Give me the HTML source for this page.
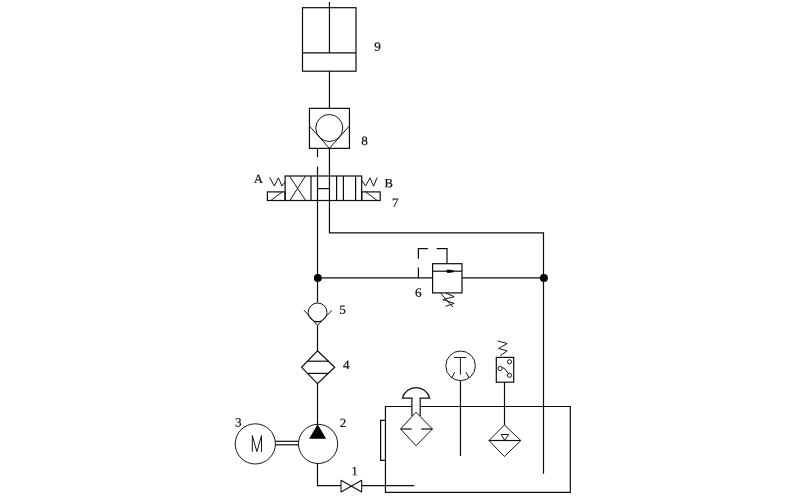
<!DOCTYPE html>
<html>
<head>
<meta charset="utf-8">
<title>Hydraulic circuit</title>
<style>
html,body{margin:0;padding:0;background:#fff;}
body{width:800px;height:500px;overflow:hidden;font-family:"Liberation Serif",serif;}
svg{display:block;will-change:transform;}
.l{fill:none;stroke:#0c0c0c;stroke-width:1.2;stroke-linecap:butt;stroke-linejoin:miter;}
.t{font-family:"Liberation Serif",serif;font-size:12.9px;fill:#111;stroke:#111;stroke-width:0.22px;text-anchor:middle;}
.f{fill:#000;stroke:none;}
.c{stroke-width:1;stroke:#161616;}
</style>
</head>
<body>
<svg width="800" height="500" viewBox="0 0 800 500">
<rect x="0" y="0" width="800" height="500" fill="#ffffff"/>

<!-- 9: cylinder -->
<g class="l">
<rect x="302.5" y="7.7" width="53.5" height="63.5"/>
<line x1="302.5" y1="52.8" x2="356" y2="52.8"/>
<line x1="329.45" y1="2" x2="329.45" y2="52.8"/>
<line x1="329.45" y1="71" x2="329.45" y2="108.4"/>
</g>

<!-- 8: pilot check valve -->
<g class="l">
<rect x="309.45" y="108.35" width="40" height="40"/>
<circle class="c" cx="329.3" cy="128" r="13.5"/>
<polyline class="c" points="309.45,126 329.4,148.35 349.45,126"/>
<line x1="317.5" y1="148.35" x2="317.5" y2="157.3"/>
</g>

<!-- 7: directional valve -->
<g class="l">
<rect x="285.1" y="176" width="76.6" height="24.5"/>
<line x1="311" y1="176" x2="311" y2="200.5"/>
<line x1="336.6" y1="176" x2="336.6" y2="200.5"/>
<line class="c" x1="289.6" y1="176.2" x2="305.6" y2="200.5"/>
<line class="c" x1="305.3" y1="176.2" x2="289.9" y2="200.5"/>
<line x1="317.5" y1="188.6" x2="329.5" y2="188.6"/>
<line x1="343.4" y1="176" x2="343.4" y2="200.5"/>
<line x1="355.6" y1="176" x2="355.6" y2="200.5"/>
<!-- solenoids -->
<rect x="267.4" y="191.9" width="17.7" height="8.6"/>
<line class="c" x1="270.8" y1="200.5" x2="282" y2="192.2"/>
<rect x="361.7" y="191.9" width="18.5" height="8.6"/>
<line class="c" x1="366" y1="192.2" x2="377.2" y2="200.5"/>
<!-- springs -->
<polyline class="c" points="269.6,177.4 274.4,186 278.4,177.8 282,186 285.1,181.8"/>
<polyline class="c" points="361.7,180.2 365.6,186 370,177.8 373.6,186.2 377.2,177.4"/>
</g>

<!-- main lines -->
<g class="l">
<!-- P line: from valve down to pump -->
<line x1="317.5" y1="166.6" x2="317.5" y2="302.6"/>
<!-- line from check valve 8 through valve to return -->
<polyline points="329.45,148.4 329.45,232.9 543.5,232.9 543.5,473.7"/>
<!-- horizontal through relief valve -->
<line x1="317.5" y1="277.85" x2="432.5" y2="277.85"/>
<line x1="461.9" y1="277.85" x2="543.5" y2="277.85"/>
</g>
<circle class="f" cx="317.8" cy="277.9" r="3.95"/>
<circle class="f" cx="543.9" cy="277.9" r="4"/>

<!-- 6: relief valve -->
<g class="l">
<rect x="432.6" y="263.7" width="29.4" height="29.2"/>
<line x1="432.6" y1="271.2" x2="462" y2="271.2"/>
<line x1="418.4" y1="277.9" x2="418.4" y2="267.6"/>
<line x1="418.4" y1="258.8" x2="418.4" y2="248"/>
<line x1="417.8" y1="248.6" x2="427.9" y2="248.6"/>
<line x1="436.7" y1="248.6" x2="447.6" y2="248.6"/>
<line x1="447" y1="248.6" x2="447" y2="263.7"/>
<polyline class="c" points="446,293.1 454.2,296.7 442.8,299.6 454.2,303.4 445.5,306.3"/>
<line class="c" x1="440.4" y1="293.1" x2="452.9" y2="307.1"/>
</g>
<path class="f" d="M445.8,271.2 L447.6,269.5 L453.6,270.2 L453.6,272.2 L447.6,272.9 Z"/>

<!-- 5: check valve -->
<g class="l">
<circle class="c" cx="317.6" cy="312.4" r="9.4"/>
<polyline class="c" points="304,310.2 317.5,325.3 332,310.2"/>
<line x1="314" y1="321.6" x2="321.2" y2="321.6"/>
<line x1="317.5" y1="325.2" x2="317.5" y2="350.8"/>
</g>

<!-- 4: filter -->
<g class="l">
<polygon points="317.5,350.8 334.7,367.3 317.5,383.7 301.6,367.3"/>
<line x1="307.6" y1="361.2" x2="328.6" y2="361.2"/>
<line x1="307.6" y1="373.4" x2="328.4" y2="373.4"/>
<line x1="317.5" y1="383.7" x2="317.5" y2="424.2"/>
</g>

<!-- 2: pump -->
<g class="l">
<circle class="c" cx="318.1" cy="443.9" r="19.6"/>
<polyline points="317.5,463.4 317.5,485.6 340.9,485.6"/>
</g>
<polygon class="f" points="317.6,424.2 326.2,438.7 309.1,438.7"/>

<!-- 3: motor -->
<g class="l">
<circle class="c" cx="255.3" cy="443.9" r="20.1"/>
<line x1="275.3" y1="441.3" x2="298.5" y2="441.3"/>
<line x1="275.3" y1="444.8" x2="298.5" y2="444.8"/>
<polyline class="c" points="252.3,451.85 252.3,435.6 256.9,451.6 261.5,435.6 261.5,451.85" stroke-linejoin="bevel"/>
</g>

<!-- 1: valve -->
<g class="l">
<polygon points="341,480.2 341,492 361.7,480.2 361.7,492" style="stroke-width:1.05;stroke-linejoin:bevel"/>
<line x1="361.7" y1="485.6" x2="414.4" y2="485.6"/>
</g>

<!-- tank -->
<g class="l">
<polyline points="411.8,406.5 385.45,406.5 385.45,492.45 570.3,492.45 570.3,406.5 420.2,406.5"/>
<polyline points="385.45,420.4 380.6,420.4 380.6,460.3 385.45,460.3"/>
</g>

<!-- breather filter -->
<g class="l">
<path d="M411.9,416 L411.9,398.1 L402.4,398.1 A14.1,14.1 0 0 1 429.7,398.1 L420.2,398.1 L420.2,416"/>
<polygon class="c" points="416,412.2 432.4,429 416,445.8 400.6,429"/>
<line x1="400.6" y1="429" x2="411.7" y2="429"/>
<line x1="421.3" y1="429" x2="432.4" y2="429"/>
</g>

<!-- thermometer -->
<g class="l">
<circle class="c" cx="460.6" cy="365.8" r="14.8"/>
<line class="c" x1="454" y1="357.5" x2="466.2" y2="357.5"/>
<line class="c" x1="460.4" y1="357.5" x2="460.4" y2="374.8"/>
<line class="c" x1="454.8" y1="372.2" x2="451.6" y2="378"/>
<line class="c" x1="466" y1="372.2" x2="469" y2="378"/>
<line x1="460.45" y1="380.6" x2="460.45" y2="456"/>
</g>

<!-- pressure switch -->
<g class="l">
<rect x="496.3" y="357.4" width="17.4" height="24.8"/>
<circle class="c" cx="509.5" cy="361.8" r="2.1"/>
<circle class="c" cx="500.2" cy="368.5" r="2.1"/>
<circle class="c" cx="509.5" cy="375.3" r="2.1"/>
<path class="c" d="M502.3,367.4 Q504.6,367.6 508.4,373.5"/>
<polyline class="c" points="498,341 507.2,343.5 498.5,348.5 507.2,350.8 500.2,355.8"/>
<line x1="504.5" y1="382.2" x2="504.5" y2="425"/>
</g>

<!-- return filter -->
<g class="l">
<polygon class="c" points="504.4,425 520.8,440.5 504.4,456.5 489,440.5"/>
<line x1="489" y1="440.5" x2="520.8" y2="440.5"/>
<polygon class="c" points="501.2,434.5 508.8,434.5 504.7,440.3"/>
</g>

<!-- labels -->
<g class="t">
<text transform="translate(377.6,50.65) rotate(0.03) scale(1.02,0.98)" x="0" y="0">9</text>
<text transform="translate(364.5,145.05) rotate(0.03) scale(1.02,0.98)" x="0" y="0">8</text>
<text transform="translate(395.4,206.75) rotate(0.03) scale(1.02,0.98)" x="0" y="0">7</text>
<text transform="translate(418.2,296.75) rotate(0.03) scale(1.02,0.98)" x="0" y="0">6</text>
<text transform="translate(342.6,313.65) rotate(0.03) scale(1.02,0.98)" x="0" y="0">5</text>
<text transform="translate(346.2,368.95) rotate(0.03) scale(1.02,0.98)" x="0" y="0">4</text>
<text transform="translate(238.25,426.45) rotate(0.03) scale(1.02,0.98)" x="0" y="0">3</text>
<text transform="translate(343.0,427.0) rotate(0.03) scale(1.02,0.98)" x="0" y="0">2</text>
<text transform="translate(354.6,475.3) rotate(0.03) scale(1.02,0.98)" x="0" y="0">1</text>
<text transform="translate(258.3,183) rotate(0.03) scale(1.0,0.98)" x="0" y="0">A</text>
<text transform="translate(388.7,187.2) rotate(0.03) scale(0.98,0.98)" x="0" y="0">B</text>
</g>
</svg>
</body>
</html>
